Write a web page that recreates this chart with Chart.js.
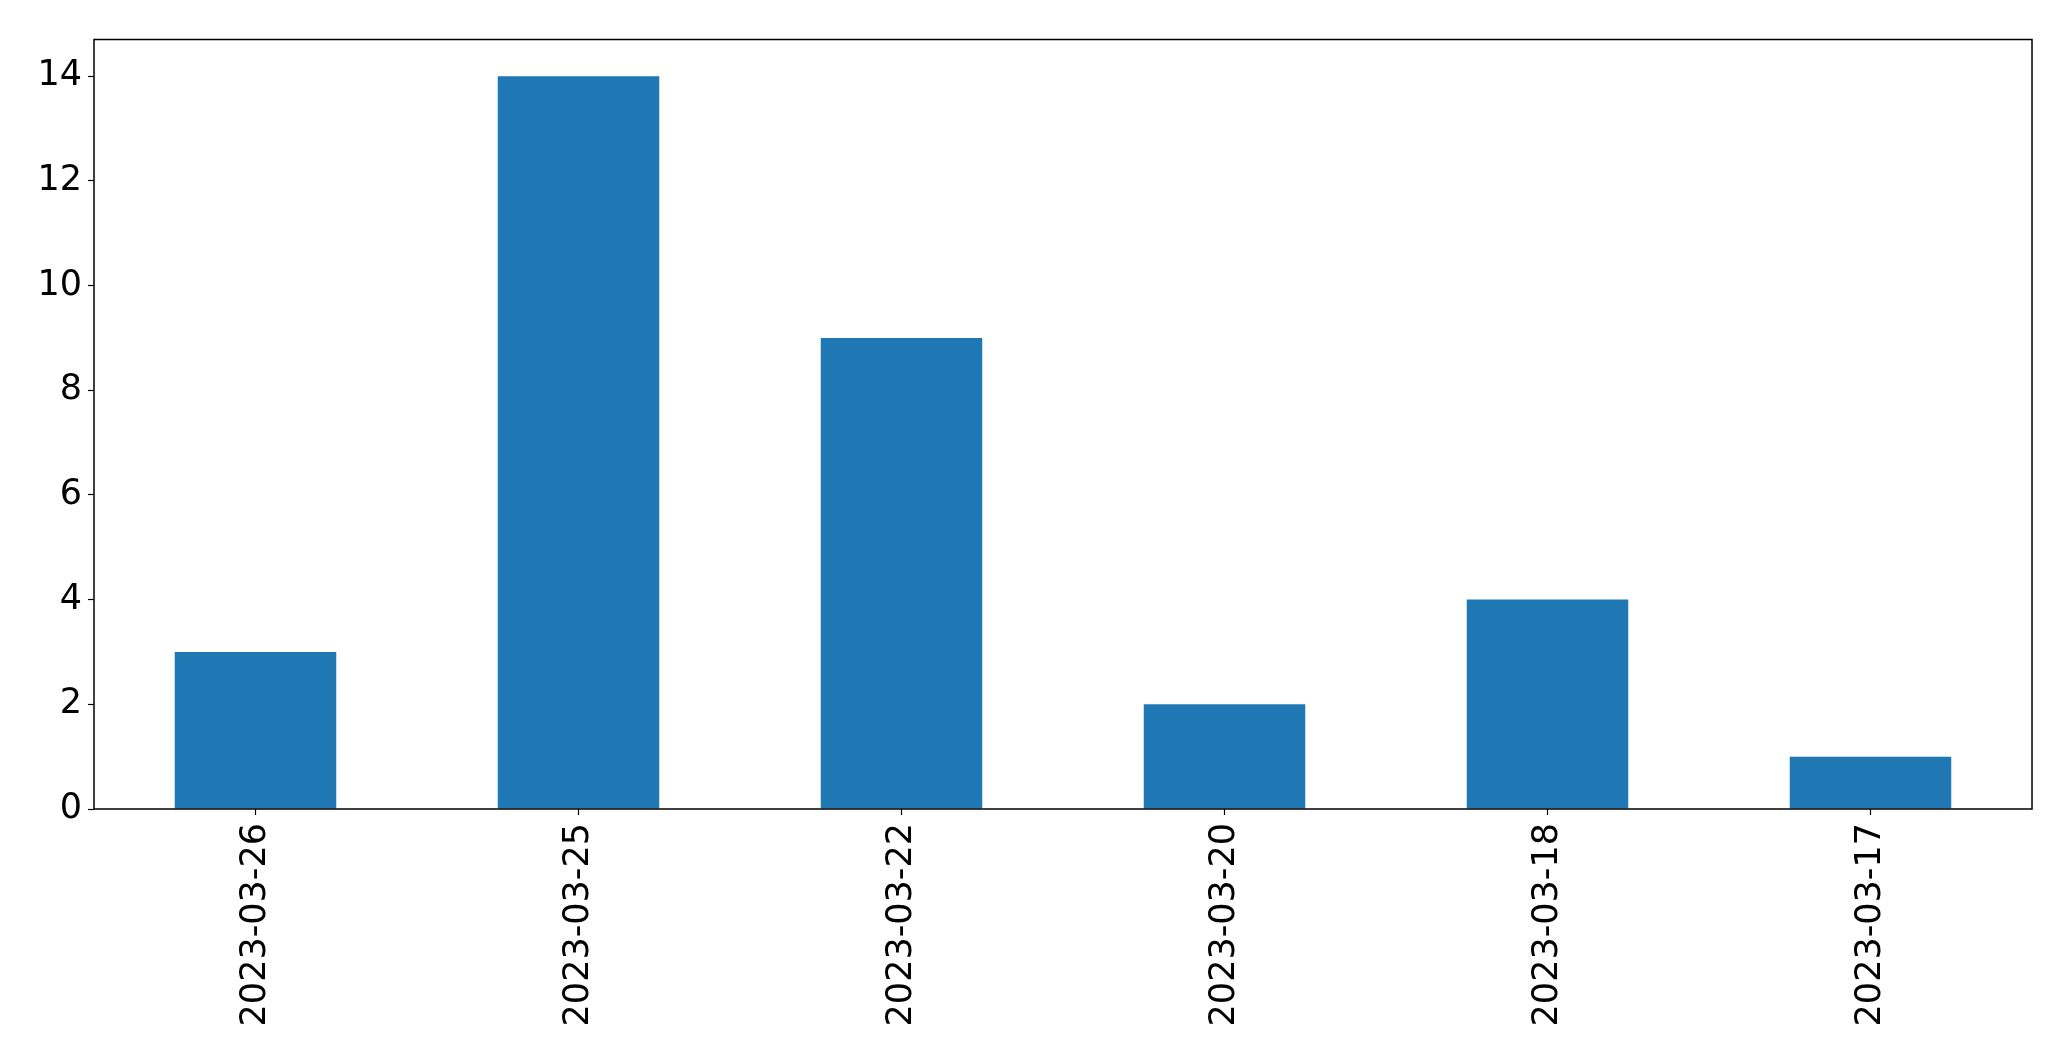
<!DOCTYPE html>
<html>
<head>
<meta charset="utf-8">
<script src="https://cdn.jsdelivr.net/npm/chart.js@4/dist/chart.umd.min.js"></script>
<style>
  html, body { margin: 0; padding: 0; background: #fff; }
  #wrap { width: 2071px; height: 1061px; position: relative; }
</style>
</head>
<body>
<div id="wrap"><canvas id="barChart"></canvas></div>
<script>
const dates = ['2023-03-26', '2023-03-25', '2023-03-22', '2023-03-20', '2023-03-18', '2023-03-17'];
const counts = [3, 14, 9, 2, 4, 1];
const yTicks = [0, 2, 4, 6, 8, 10, 12, 14];

// draws the frame around the plot area
const frameBox = {
    id: 'frameBox',
    afterDraw(chart) {
        const { ctx, chartArea: a } = chart;
        ctx.save();
        ctx.strokeStyle = '#000';
        ctx.lineWidth = 1.5;
        ctx.strokeRect(a.left, a.top, a.right - a.left, a.bottom - a.top);
        ctx.restore();
    }
};

const tickFont = { family: 'DejaVu Sans', size: 35 };

new Chart(document.getElementById('barChart'), {
    type: 'bar',
    data: {
        labels: dates,
        datasets: [{
            data: counts,
            backgroundColor: '#1f77b4',
            barPercentage: 0.5,
            categoryPercentage: 1
        }]
    },
    options: {
        responsive: true,
        maintainAspectRatio: false,
        animation: false,
        layout: {
            padding: { left: 0, top: 39.5, right: 39, bottom: 0 }
        },
        plugins: {
            legend: { display: false },
            tooltip: { enabled: false }
        },
        scales: {
            x: {
                grid: {
                    offset: false,
                    drawOnChartArea: false,
                    color: '#000',
                    tickLength: 6,
                    tickWidth: 1.2
                },
                border: { display: false },
                ticks: {
                    color: '#000',
                    font: tickFont,
                    minRotation: 90,
                    maxRotation: 90,
                    padding: 8
                },
                afterFit: (scale) => { scale.height = 252; }
            },
            y: {
                min: 0,
                max: 14.7,
                grid: {
                    drawOnChartArea: false,
                    color: '#000',
                    tickLength: 6,
                    tickWidth: 1.2
                },
                border: { display: false },
                ticks: {
                    color: '#000',
                    font: tickFont,
                    padding: 6
                },
                afterBuildTicks: (scale) => {
                    scale.ticks = yTicks.map(v => ({ value: v }));
                },
                afterFit: (scale) => { scale.width = 94; }
            }
        }
    },
    plugins: [frameBox]
});
</script>
</body>
</html>
